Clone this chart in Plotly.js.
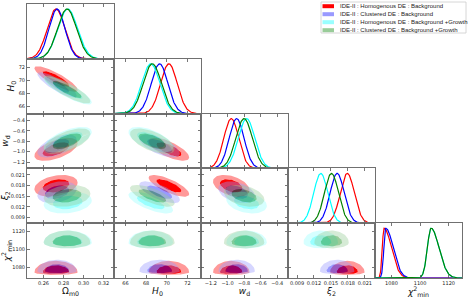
<!DOCTYPE html>
<html><head><meta charset="utf-8">
<script src="https://cdn.plot.ly/plotly-3.0.1.min.js"></script>
<style>html,body{margin:0;padding:0;background:#fff}#chart{width:469px;height:298px}</style>
</head><body><div id="chart"></div>
<script>
// ---------- DATA ----------
const paramLabels = ['Ω<sub>m0</sub>', '<i>H</i><sub>0</sub>', '<i>w</i><sub>d</sub>', '<i>ξ</i><sub>2</sub>', '<i>χ</i><sup>2</sup><sub>min</sub>'];
const modelNames = [
  'IDE-II : Homogenous DE : Background',
  'IDE-II : Clustered DE : Background',
  'IDE-II : Homogenous DE : Background +Growth',
  'IDE-II : Clustered DE : Background +Growth'
];
// posterior modes  [Om0, H0, wd, xi2, chi2min]
const modeHomBg    = [0.2725, 70.20, -0.955, 0.0179, 1074.8];
const modeCluBg    = [0.2735, 69.30, -0.890, 0.0161, 1076.0];
const modeHomBgGr  = [0.2842, 68.45, -0.770, 0.0132, 1107.7];
const modeCluBgGr  = [0.2835, 68.60, -0.800, 0.0151, 1107.7];
// lower / upper widths
const sigLoHomBg   = [0.0088, 0.80, 0.090, 0.00125, 1.2];
const sigHiHomBg   = [0.0088, 0.80, 0.090, 0.00125, 5.2];
const sigLoCluBg   = [0.0080, 0.80, 0.090, 0.00125, 1.3];
const sigHiCluBg   = [0.0080, 0.80, 0.090, 0.00125, 5.2];
const sigLoHomBgGr = [0.0098, 0.88, 0.100, 0.00125, 2.6];
const sigHiHomBgGr = [0.0098, 0.88, 0.100, 0.00125, 5.5];
const sigLoCluBgGr = [0.0095, 0.88, 0.100, 0.00125, 2.6];
const sigHiCluBgGr = [0.0095, 0.88, 0.100, 0.00125, 5.5];
// correlations for pairs (row,col)
const pairList    = [[1,0],[2,0],[2,1],[3,0],[3,1],[3,2],[4,0],[4,1],[4,2],[4,3]];
const corrHomBg   = [-0.85, 0.55, -0.70, 0.30, -0.75, -0.40, 0, 0, 0, 0];
const corrCluBg   = [-0.85, 0.55, -0.65, 0.30, -0.70, -0.35, 0, 0, 0, 0];
const corrHomBgGr = [-0.85, 0.60, -0.60, 0.20, -0.70, -0.30, 0, 0, 0, 0];
const corrCluBgGr = [-0.85, 0.60, -0.60, 0.20, -0.70, -0.35, 0, 0, 0, 0];
// ticks
const ticksOm  = [0.26, 0.28, 0.30, 0.32];
const ticksH0  = [66, 68, 70, 72];
const ticksWd  = [-1.2, -1.0, -0.8, -0.6, -0.4];
const ticksXi  = [0.009, 0.012, 0.015, 0.018, 0.021];
const ticksChi = [1080, 1100, 1120];
const tickTextOm  = ['0.26', '0.28', '0.30', '0.32'];
const tickTextH0  = ['66', '68', '70', '72'];
const tickTextWd  = ['−1.2', '−1.0', '−0.8', '−0.6', '−0.4'];
const tickTextXi  = ['0.009', '0.012', '0.015', '0.018', '0.021'];
const tickTextChi = ['1080', '1100', '1120'];

// ---------- STYLE / LAYOUT ----------
const FIG_W = 469, FIG_H = 298;
const axisRanges = [[0.2436, 0.3303], [64.9, 73.3], [-1.32, -0.27], [0.0074, 0.0228], [1068.5, 1129.3]];
const lineColors = ['#ff0000', '#0000ff', '#00ffff', '#008000'];
const innerFill = ['rgba(255,0,0,1)', 'rgba(0,0,255,0.4)', 'rgba(0,255,255,0.4)', 'rgba(0,128,0,0.4)'];
const outerFill = ['rgba(255,153,153,1)', 'rgba(153,153,255,0.4)', 'rgba(153,255,255,0.4)', 'rgba(153,204,153,0.4)'];
const patchColors = ['#ff0000', '#9999ff', '#99ffff', '#99cc99'];
const gridLeft = 27, gridTop = 4, colW = 87, rowH = 54.8, NP = 5;

const models = [
  {mode: modeHomBg, lo: sigLoHomBg, hi: sigHiHomBg, corr: corrHomBg},
  {mode: modeCluBg, lo: sigLoCluBg, hi: sigHiCluBg, corr: corrCluBg},
  {mode: modeHomBgGr, lo: sigLoHomBgGr, hi: sigHiHomBgGr, corr: corrHomBgGr},
  {mode: modeCluBgGr, lo: sigLoCluBgGr, hi: sigHiCluBgGr, corr: corrCluBgGr}
];
const tickVals = [ticksOm, ticksH0, ticksWd, ticksXi, ticksChi];
const tickTexts = [tickTextOm, tickTextH0, tickTextWd, tickTextXi, tickTextChi];

const R95 = Math.sqrt(-2 * Math.log(0.05)), R68 = Math.sqrt(-2 * Math.log(0.32));
function contour(m, i, j, r, nPts, reverse) {
  const k = pairList.findIndex(p => p[0] === i && p[1] === j);
  const rho = m.corr[k];
  const xs = [], ys = [];
  for (let s = 0; s <= nPts; s++) {
    const idx = reverse ? nPts - s : s;
    const t = 2 * Math.PI * idx / nPts;
    const u = Math.cos(t), v = Math.sin(t);
    const z1 = u, z2 = rho * u + Math.sqrt(1 - rho * rho) * v;
    xs.push(m.mode[j] + r * z1 * (z1 < 0 ? m.lo[j] : m.hi[j]));
    ys.push(m.mode[i] + r * z2 * (z2 < 0 ? m.lo[i] : m.hi[i]));
  }
  return [xs, ys];
}

const traces = [];
const layout = {
  width: FIG_W, height: FIG_H, margin: {l: 0, r: 0, t: 0, b: 0},
  paper_bgcolor: '#fff', plot_bgcolor: '#fff', showlegend: false,
  font: {family: 'DejaVu Sans', size: 5, color: '#222'},
  shapes: [], annotations: []
};
let n = 0;
for (let i = 0; i < NP; i++) {
  for (let j = 0; j <= i; j++) {
    n++;
    const xa = n === 1 ? 'x' : 'x' + n, ya = n === 1 ? 'y' : 'y' + n;
    const xkey = n === 1 ? 'xaxis' : 'xaxis' + n, ykey = n === 1 ? 'yaxis' : 'yaxis' + n;
    const x0 = (gridLeft + j * colW) / FIG_W, x1 = (gridLeft + (j + 1) * colW) / FIG_W;
    const y1 = 1 - (gridTop + i * rowH) / FIG_H, y0 = 1 - (gridTop + (i + 1) * rowH) / FIG_H;
    const common = {showline: true, linecolor: '#707070', linewidth: 1, showgrid: false, zeroline: false,
      ticks: 'inside', ticklen: 3, tickwidth: 0.8, tickcolor: '#555', tickfont: {size: 5, color: '#222'}};
    layout[xkey] = Object.assign({}, common, {domain: [x0, x1], anchor: ya, range: axisRanges[j],
      tickvals: tickVals[j], ticktext: tickTexts[j], showticklabels: i === NP - 1, mirror: 'ticks'});
    if (i === NP - 1) layout[xkey].title = {text: paramLabels[j], font: {size: 9, color: '#111'}, standoff: 2};
    if (i === j) {
      layout[ykey] = {domain: [y0, y1], anchor: xa, range: [0, 1.1], showline: true, mirror: true,
        linecolor: '#707070', linewidth: 1, showgrid: false, zeroline: false, ticks: '', showticklabels: false};
      models.forEach((m, mi) => {
        const xs = [], ys = [];
        const [a, b] = axisRanges[j];
        for (let s = 0; s <= 240; s++) {
          const x = a + (b - a) * s / 240;
          const d = x - m.mode[j];
          const sg = d < 0 ? m.lo[j] : m.hi[j];
          xs.push(x); ys.push(Math.exp(-0.5 * (d / sg) * (d / sg)));
        }
        traces.push({type: 'scatter', mode: 'lines', x: xs, y: ys, xaxis: xa, yaxis: ya,
          line: {color: lineColors[mi], width: 1.2}, hoverinfo: 'skip', name: modelNames[mi]});
      });
    } else {
      layout[ykey] = Object.assign({}, common, {domain: [y0, y1], anchor: xa, range: axisRanges[i],
        tickvals: tickVals[i], ticktext: tickTexts[i], showticklabels: j === 0, mirror: 'ticks'});
      if (j === 0) layout[ykey].title = {text: paramLabels[i], font: {size: 9, color: '#111'}, standoff: 2};
      models.forEach((m, mi) => {
        const [ox, oy] = contour(m, i, j, R95, 72, false);
        const [ix, iy] = contour(m, i, j, R68, 72, true);
        traces.push({type: 'scatter', mode: 'lines', x: ox.concat(ix), y: oy.concat(iy), xaxis: xa, yaxis: ya,
          fill: 'toself', fillcolor: outerFill[mi], line: {width: 0}, hoverinfo: 'skip', name: modelNames[mi]});
        const [jx, jy] = contour(m, i, j, R68, 72, false);
        traces.push({type: 'scatter', mode: 'lines', x: jx, y: jy, xaxis: xa, yaxis: ya,
          fill: 'toself', fillcolor: innerFill[mi], line: {width: 0}, hoverinfo: 'skip', name: modelNames[mi]});
      });
    }
  }
}
// legend (drawn as shapes + text annotations)
const lgX0 = 321, lgX1 = 466, lgY0 = 2, lgY1 = 33, rowGap = 8, firstRow = 6.2;
layout.shapes.push({type: 'rect', xref: 'paper', yref: 'paper', x0: lgX0 / FIG_W, x1: lgX1 / FIG_W,
  y0: 1 - lgY1 / FIG_H, y1: 1 - lgY0 / FIG_H, line: {color: '#cccccc', width: 0.8}, fillcolor: '#ffffff'});
modelNames.forEach((nm, k) => {
  const cy = firstRow + k * rowGap;
  layout.shapes.push({type: 'rect', xref: 'paper', yref: 'paper', x0: 322.5 / FIG_W, x1: 334 / FIG_W,
    y0: 1 - (cy + 2) / FIG_H, y1: 1 - (cy - 2) / FIG_H, line: {width: 0}, fillcolor: patchColors[k]});
  layout.annotations.push({xref: 'paper', yref: 'paper', x: 338 / FIG_W, y: 1 - cy / FIG_H, xanchor: 'left', yanchor: 'middle',
    text: nm, showarrow: false, font: {family: 'Liberation Sans', size: 6, color: '#222'}});
});
Plotly.newPlot('chart', traces, layout, {displayModeBar: false, staticPlot: true});
</script></body></html>
